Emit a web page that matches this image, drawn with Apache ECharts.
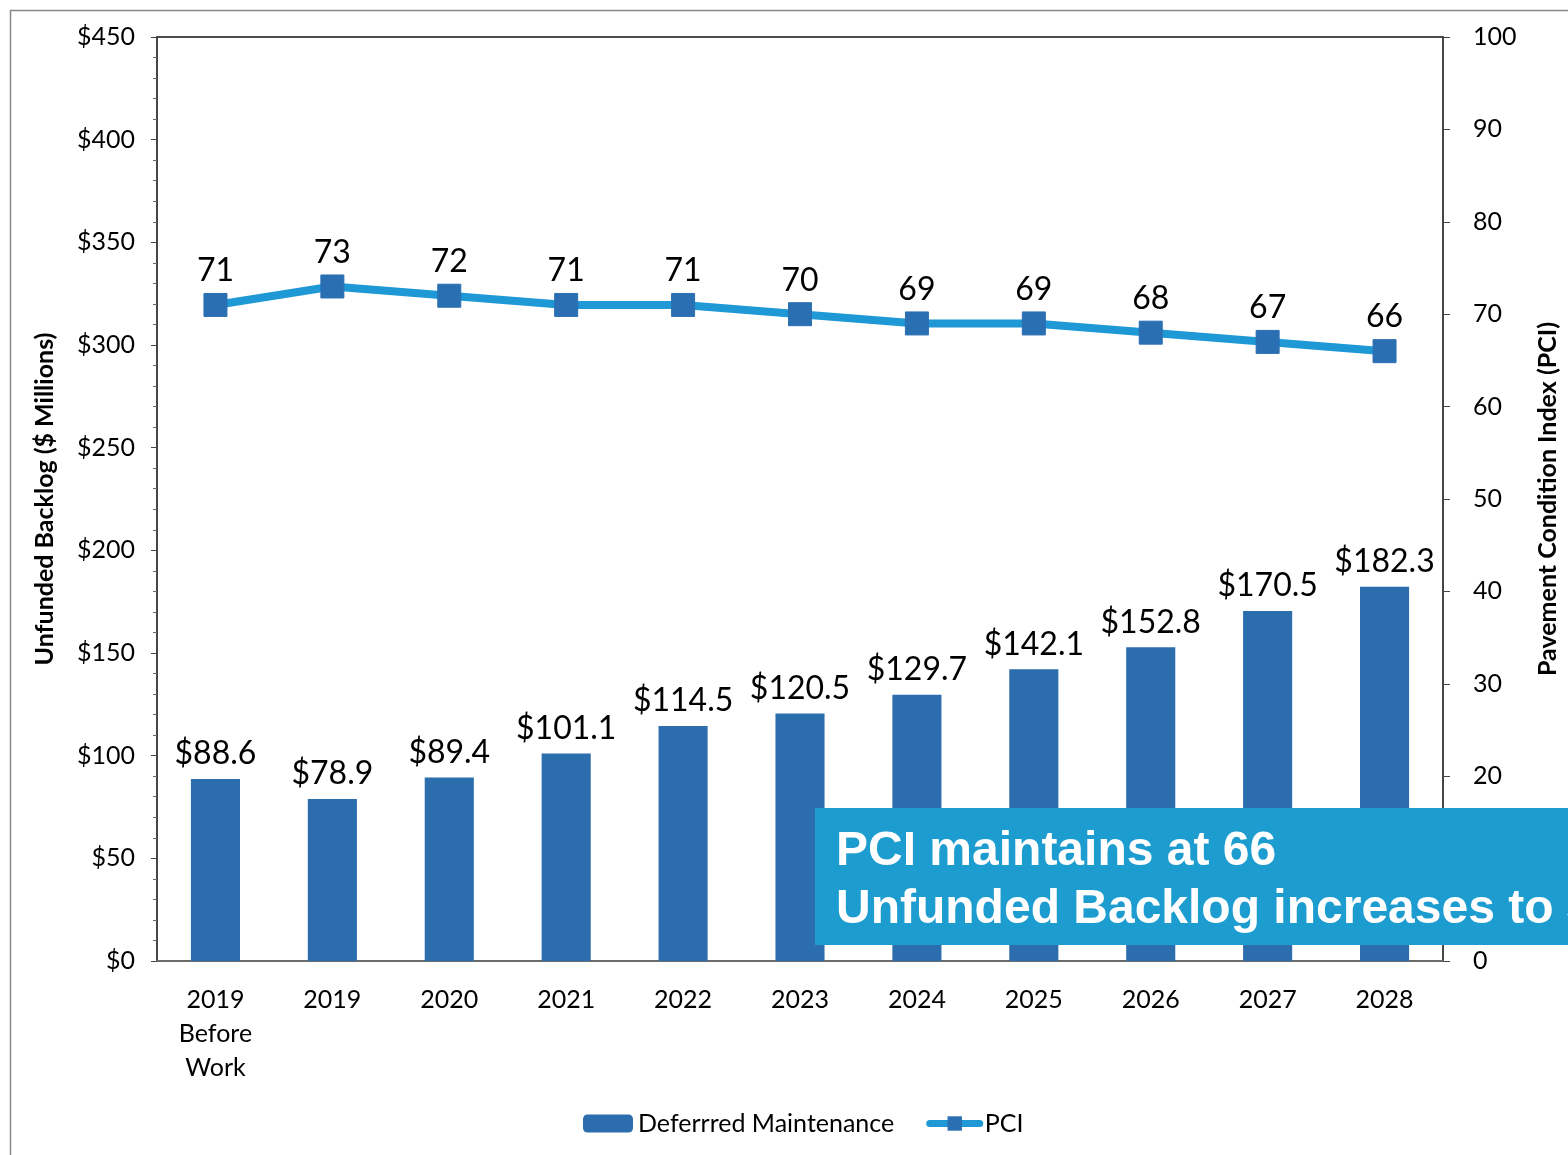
<!DOCTYPE html>
<html>
<head>
<meta charset="utf-8">
<script src="https://cdn.jsdelivr.net/npm/echarts@6/dist/echarts.min.js"></script>
<style>
  html, body { margin: 0; padding: 0; background: #fff; }
  #chart { width: 1568px; height: 1155px; }
</style>
</head>
<body>
<div id="chart"></div>
<script>
// categories and values
var years = ['2019\nBefore\nWork', '2019', '2020', '2021', '2022', '2023', '2024', '2025', '2026', '2027', '2028'];
var backlog = [88.6, 78.9, 89.4, 101.1, 114.5, 120.5, 129.7, 142.1, 152.8, 170.5, 182.3];
var pci = [71, 73, 72, 71, 71, 70, 69, 69, 68, 67, 66];

var FONT = 'Lato, "Open Sans", sans-serif';
var chart = echarts.init(document.getElementById('chart'));

var option = {
  animation: false,
  backgroundColor: '#fff',
  grid: {
    left: 157, right: 118, top: 37, bottom: 194,
    show: true, borderColor: '#111', borderWidth: 1.5, backgroundColor: 'transparent'
  },
  legend: {
    top: 1106,
    left: 578,
    itemWidth: 50,
    itemHeight: 18,
    itemGap: 32,
    textStyle: { fontFamily: FONT, fontSize: 25, color: '#000' },
    data: [
      { name: 'Deferrred Maintenance' },
      { name: 'PCI', lineStyle: { width: 7, color: '#1f98d6', cap: 'round' } }
    ]
  },
  xAxis: {
    type: 'category',
    data: years,
    axisLine: { lineStyle: { color: '#777', width: 1.5 } },
    axisTick: { show: false },
    axisLabel: { fontFamily: FONT, fontSize: 25, color: '#000', lineHeight: 34, margin: 22 }
  },
  yAxis: [
    {
      type: 'value',
      min: 0, max: 450, interval: 50,
      name: 'Unfunded Backlog ($ Millions)',
      nameLocation: 'middle',
      nameGap: 100,
      nameTextStyle: { fontFamily: FONT, fontSize: 25, fontWeight: 'bold', color: '#000' },
      axisLine: { show: true, lineStyle: { color: '#444', width: 1.5 } },
      axisTick: { show: true, length: 6, lineStyle: { color: '#444' } },
      minorTick: { show: true, splitNumber: 5, length: 4, lineStyle: { color: '#666' } },
      splitLine: { show: false },
      axisLabel: {
        fontFamily: FONT, fontSize: 25, color: '#000', margin: 22,
        formatter: function (v) { return '$' + v; }
      }
    },
    {
      type: 'value',
      min: 0, max: 100, interval: 10,
      position: 'right',
      name: 'Pavement Condition Index (PCI)',
      nameLocation: 'middle',
      nameGap: 92,
      nameRotate: 90,
      nameTextStyle: { fontFamily: FONT, fontSize: 25, fontWeight: 'bold', color: '#000' },
      axisLine: { show: true, lineStyle: { color: '#444', width: 1.5 } },
      axisTick: { show: true, length: 7, lineStyle: { color: '#444' } },
      splitLine: { show: false },
      axisLabel: { fontFamily: FONT, fontSize: 25, color: '#000', margin: 30 }
    }
  ],
  series: [
    {
      name: 'Deferrred Maintenance',
      type: 'bar',
      data: backlog,
      barWidth: '42%',
      itemStyle: { color: '#2c6dae' },
      label: {
        show: true, position: 'top', distance: 9,
        fontFamily: FONT, fontSize: 32, color: '#000',
        formatter: function (p) { return '$' + p.value.toFixed(1); }
      }
    },
    {
      name: 'PCI',
      type: 'line',
      yAxisIndex: 1,
      data: pci,
      symbol: 'rect',
      symbolSize: 23,
      lineStyle: { color: '#1f98d6', width: 8 },
      itemStyle: { color: '#2b6fb3', borderColor: '#2b6fb3' },
      label: {
        show: true, position: 'top', distance: 6,
        fontFamily: FONT, fontSize: 32, color: '#000'
      },
      z: 5
    }
  ],
  graphic: {
    elements: [
      {
        type: 'rect',
        left: 8, top: 8,
        shape: { width: 1600, height: 1200 },
        style: { fill: 'none', stroke: '#888', lineWidth: 1.5 },
        z: -1,
        silent: true
      },
      {
        type: 'rect',
        left: 815, top: 808,
        z: 1000, zlevel: 5,
        shape: { width: 760, height: 137 },
        style: { fill: '#1c9ccf' }
      },
      {
        type: 'text',
        left: 836, top: 823,
        z: 1001, zlevel: 5,
        style: {
          text: 'PCI maintains at 66\nUnfunded Backlog increases to $182.3 Million',
          fill: '#fff',
          font: 'bold 48px "Liberation Sans", Arial, sans-serif',
          lineHeight: 58
        }
      }
    ]
  }
};

chart.setOption(option);
</script>
</body>
</html>
